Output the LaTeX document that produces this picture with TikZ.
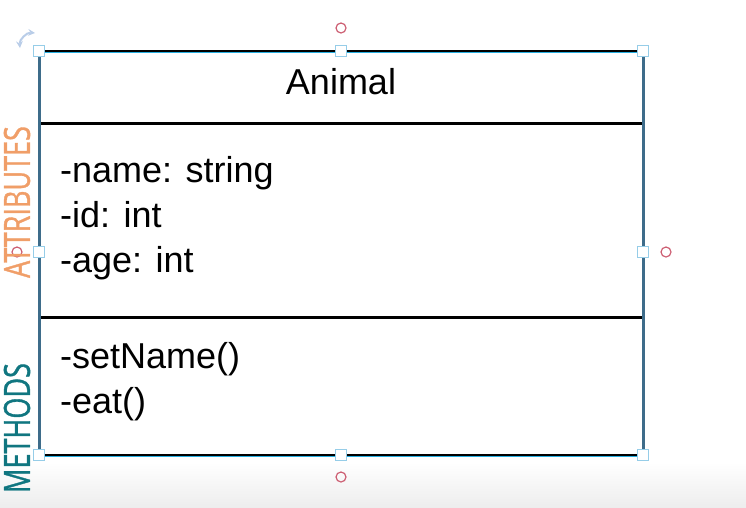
\documentclass[tikz,border=0pt]{standalone}
\usepackage{fontspec}
\setmainfont{Liberation Sans}
\newfontfamily\sidefont[FakeBold=1.2]{Open Sans}
\definecolor{attrcol}{RGB}{240,158,104}
\definecolor{methcol}{RGB}{16,118,128}
\definecolor{framecol}{RGB}{62,108,138}
\definecolor{handlecol}{RGB}{150,205,232}
\definecolor{selcol}{RGB}{40,175,225}
\definecolor{ringcol}{RGB}{205,95,115}
\definecolor{turncol}{RGB}{185,205,232}
\begin{document}
\begin{tikzpicture}[x=1pt,y=-1pt,
	handlebox/.style={draw=handlecol,fill=white,line width=1.3pt,minimum size=11pt,inner sep=0pt},
	ring/.style={circle,draw=ringcol,line width=1.2pt,minimum size=10pt,inner sep=0pt},
	member/.style={anchor=base west,inner sep=0pt,font=\fontsize{36}{44}\selectfont},
	side/.style={rotate=90,font=\sidefont\fontsize{36}{36}\selectfont,inner sep=0pt}]
		\useasboundingbox (0,0) rectangle (746,507);
		\shade[top color=white,bottom color=black!7,draw=none] (0,462) rectangle (746,507);

		\coordinate (nw) at (39,51);
		\coordinate (ne) at (643,51);
		\coordinate (sw) at (39,455);
		\coordinate (se) at (643,455);

		\draw[line width=3pt](39,123)--(643,123);
		\draw[line width=3pt](39,317)--(643,317);
		\draw[line width=3pt](nw)--(ne);
		\draw[line width=3pt](sw)--(se);
		\draw[selcol,line width=1.3pt]([yshift=-1.8pt]nw)--([yshift=-1.8pt]ne);
		\draw[selcol,line width=1.3pt]([yshift=-1.8pt]sw)--([yshift=-1.8pt]se);
		\draw[framecol,line width=3pt](nw)--(sw);
		\draw[framecol,line width=3pt](ne)--(se);

		\node[ring] (r1) at (341,28) {};
		\node[ring] (r2) at (666,252) {};
		\node[ring] (r3) at (341,477) {};
		\node[ring] (r4) at (17,252) {};

		\node[font=\fontsize{36}{44}\selectfont,anchor=base] (cls) at (341,94) {Animal};
		\node[member] (a1) at (60,182) {-name: string};
		\node[member] (a2) at (60,227) {-id: int};
		\node[member] (a3) at (60,272) {-age: int};
		\node[member] (m1) at (60,368) {-setName()};
		\node[member] (m2) at (60,413) {-eat()};

		\node[side,text=attrcol] (attr) at (17,202) {\scalebox{0.75}[1]{ATTRIBUTES}};
		\node[side,text=methcol] (meth) at (17,428) {\scalebox{0.75}[1]{METHODS}};

		\node[handlebox] (h1) at (nw) {};
		\node[handlebox] (h2) at (341,51) {};
		\node[handlebox] (h3) at (ne) {};
		\node[handlebox] (h4) at (643,252) {};
		\node[handlebox] (h5) at (se) {};
		\node[handlebox] (h6) at (341,455) {};
		\node[handlebox] (h7) at (sw) {};
		\node[handlebox] (h8) at (39,252) {};

		\draw[turncol,line width=2pt,<->,>=stealth](20,48) to[bend left=50] (35,33);
\end{tikzpicture}
\end{document}
